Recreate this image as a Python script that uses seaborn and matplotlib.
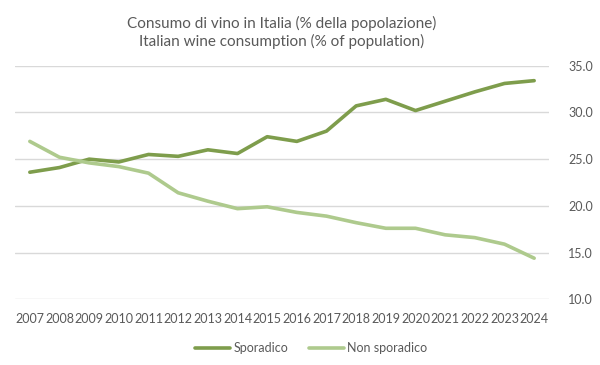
import matplotlib
matplotlib.use("Agg")
import matplotlib.pyplot as plt
import seaborn as sns
import pandas as pd

years = list(range(2007, 2025))
sporadico = [23.6, 24.1, 25.0, 24.7, 25.5, 25.3, 26.0, 25.6, 27.4, 26.9,
             28.0, 30.7, 31.4, 30.2, 31.2, 32.2, 33.1, 33.4]
non_sporadico = [26.9, 25.2, 24.6, 24.2, 23.5, 21.4, 20.5, 19.7, 19.9, 19.3,
                 18.9, 18.2, 17.6, 17.6, 16.9, 16.6, 15.9, 14.4]
series_names = ["Sporadico", "Non sporadico"]
colors = ["#7E9D4C", "#AECA8D"]

df = pd.DataFrame({"anno": years, series_names[0]: sporadico, series_names[1]: non_sporadico})
long_df = df.melt(id_vars="anno", var_name="serie", value_name="valore")

sns.set_theme(style="white")
plt.rcParams["font.family"] = ["Lato", "DejaVu Sans"]

fig, ax = plt.subplots(figsize=(6, 3.65), dpi=100)
sns.lineplot(data=long_df, x="anno", y="valore", hue="serie", palette=colors,
             linewidth=2.6, ax=ax, legend=True)

ax.set_ylim(10, 35)
ax.set_yticks([10, 15, 20, 25, 30, 35])
ax.set_yticklabels([f"{v:.1f}" for v in [10, 15, 20, 25, 30, 35]])
ax.set_xlim(2006.5, 2024.5)
ax.set_xticks(years)
ax.set_xticklabels([str(y) for y in years])
ax.yaxis.tick_right()
ax.tick_params(axis="both", length=0, labelsize=9, colors="#595959")
ax.tick_params(axis="y", pad=14)
ax.tick_params(axis="x", pad=10)
ax.grid(axis="y", color="#D9D9D9", linewidth=1)
ax.set_axisbelow(True)
for s in ax.spines.values():
    s.set_visible(False)
ax.set_xlabel("")
ax.set_ylabel("")

ax.set_title("Consumo di vino in Italia (% della popolazione)\nItalian wine consumption (% of population)",
             fontsize=11, color="#595959", pad=14, linespacing=1.3)

leg = ax.legend(loc="upper center", bbox_to_anchor=(0.555, -0.135), ncol=2, frameon=False,
                fontsize=9, handlelength=2.8, columnspacing=1.6, handletextpad=0.3)
for t in leg.get_texts():
    t.set_color("#595959")

fig.subplots_adjust(left=0.025, right=0.915, top=0.82, bottom=0.18)
fig.savefig("out.png", dpi=100)
